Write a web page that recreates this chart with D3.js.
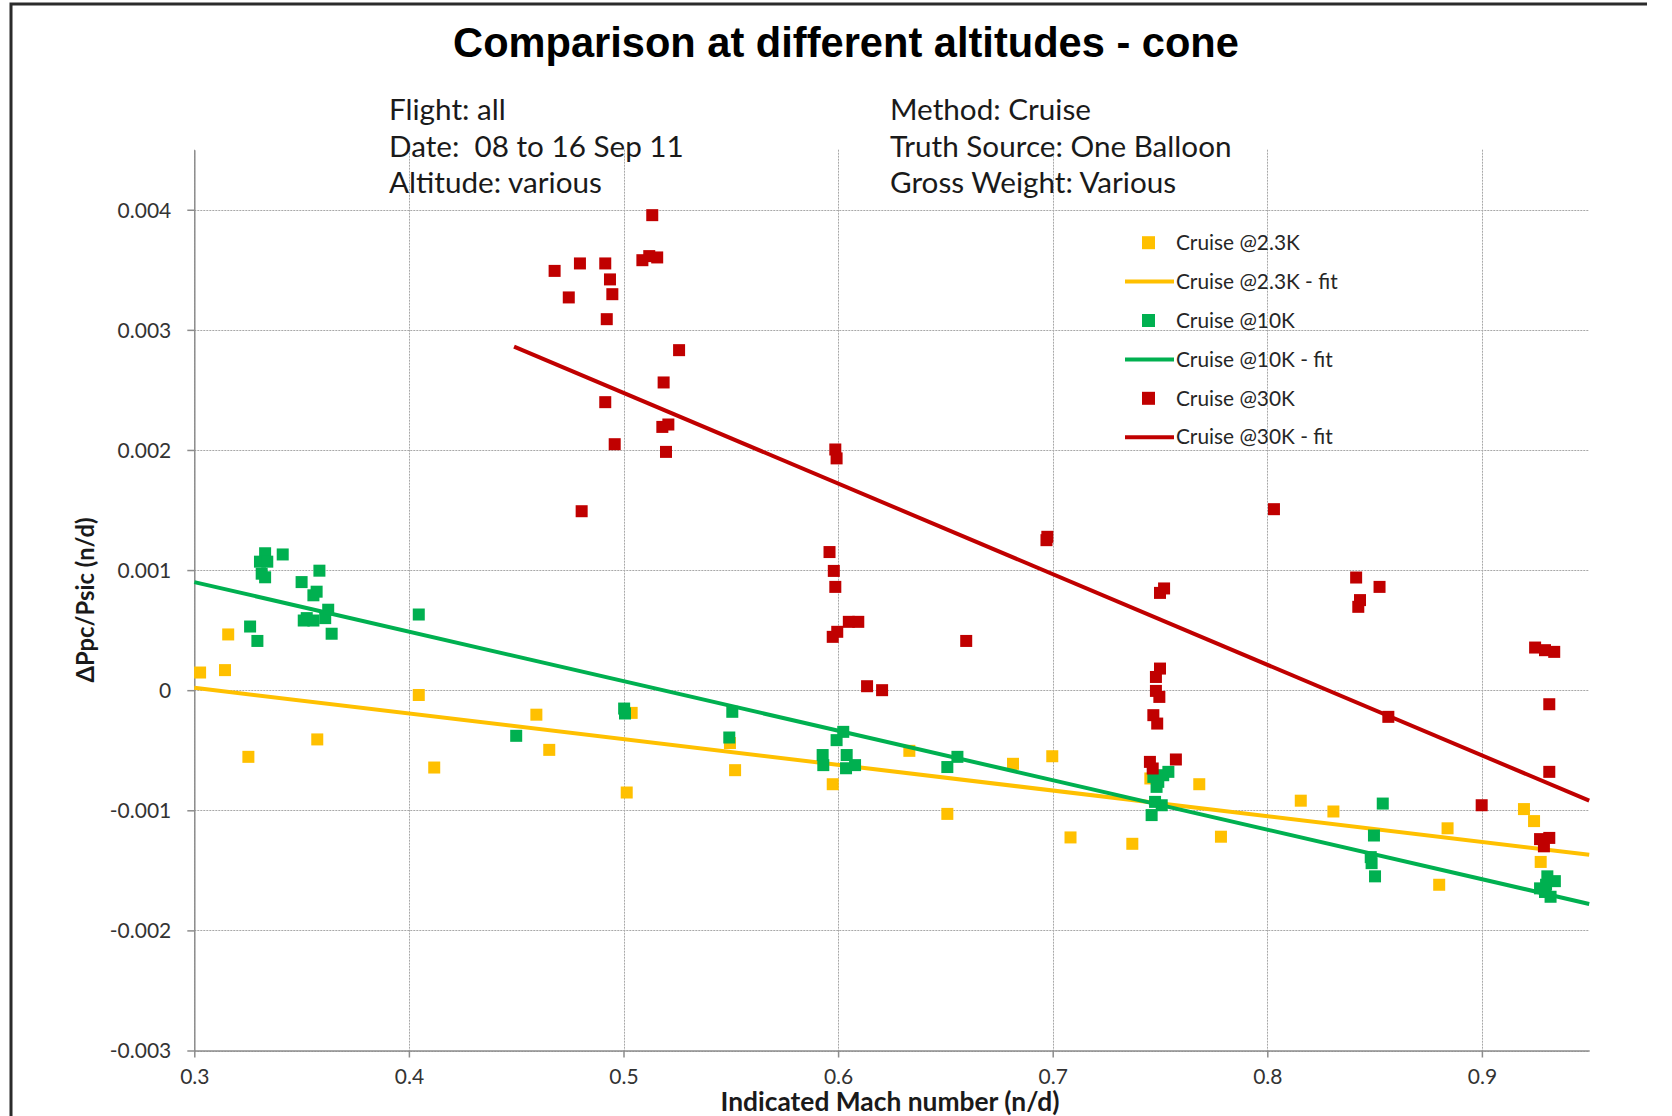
<!DOCTYPE html>
<html>
<head>
<meta charset="utf-8">
<script src="https://cdn.jsdelivr.net/npm/d3@7"></script>
<style>
  html, body { margin: 0; padding: 0; background: #fff; }
  svg { display: block; }
</style>
</head>
<body>
<svg id="chart" width="1672" height="1116"></svg>
<script>
// ---------------- DATA ----------------
const chartTitle = "Comparison at different altitudes - cone";
const infoLeft = ["Flight: all", "Date:\u00a0\u00a008 to 16 Sep 11", "Altitude: various"];
const infoRight = ["Method: Cruise", "Truth Source: One Balloon", "Gross Weight: Various"];
const xAxisTitle = "Indicated Mach number (n/d)";
const yAxisTitle = "\u0394Ppc/Psic (n/d)";

const xTicks = [0.3, 0.4, 0.5, 0.6, 0.7, 0.8, 0.9];
const yTicks = [-0.003, -0.002, -0.001, 0, 0.001, 0.002, 0.003, 0.004];
const xTickLabels = ["0.3", "0.4", "0.5", "0.6", "0.7", "0.8", "0.9"];
const yTickLabels = ["-0.003", "-0.002", "-0.001", "0", "0.001", "0.002", "0.003", "0.004"];

const seriesNames = ["Cruise @2.3K", "Cruise @10K", "Cruise @30K"];
const fitNames = ["Cruise @2.3K - fit", "Cruise @10K - fit", "Cruise @30K - fit"];

const cruise2_3K = [
  [0.3027, 0.000147], [0.3143, 0.000167], [0.3158, 0.000464], [0.3252, -0.000555],
  [0.3573, -0.00041], [0.4046, -0.00004], [0.4118, -0.000644], [0.4594, -0.000204],
  [0.4654, -0.000497], [0.5038, -0.000189], [0.5015, -0.000852], [0.5496, -0.00044],
  [0.552, -0.000666], [0.5975, -0.000783], [0.6332, -0.000505], [0.6509, -0.00103],
  [0.6815, -0.000613], [0.6998, -0.00055], [0.7083, -0.001226], [0.7371, -0.001279],
  [0.7455, -0.000735], [0.7683, -0.000783], [0.7784, -0.00122], [0.8156, -0.00092],
  [0.8308, -0.00101], [0.884, -0.00115], [0.8801, -0.00162], [0.9196, -0.00099],
  [0.9243, -0.00109], [0.9274, -0.00143]
];
const cruise10K = [
  [0.333, 0.00114], [0.3306, 0.00107], [0.334, 0.00107], [0.3314, 0.00097],
  [0.333, 0.00094], [0.3412, 0.00113], [0.326, 0.00053], [0.3294, 0.00041],
  [0.350, 0.0009], [0.3583, 0.000995], [0.3555, 0.00079], [0.357, 0.00082],
  [0.351, 0.00058], [0.3524, 0.0006], [0.3555, 0.00058], [0.3624, 0.00067],
  [0.361, 0.0006], [0.364, 0.00047], [0.4046, 0.00063], [0.45, -0.00038],
  [0.5003, -0.000153], [0.5007, -0.000194], [0.5507, -0.00018], [0.5493, -0.000394],
  [0.5928, -0.00054], [0.5931, -0.000624], [0.5993, -0.000416], [0.6024, -0.000347],
  [0.604, -0.00054], [0.6037, -0.00065], [0.6079, -0.000624], [0.6509, -0.00064],
  [0.6556, -0.000555], [0.7469, -0.000722], [0.7492, -0.000763], [0.7515, -0.000708],
  [0.7539, -0.00068], [0.7484, -0.000805], [0.7477, -0.00093], [0.7508, -0.000958],
  [0.7461, -0.00104], [0.8538, -0.000944], [0.8497, -0.00121], [0.8482, -0.00139],
  [0.8486, -0.00144], [0.8502, -0.00155], [0.9305, -0.00155], [0.934, -0.00159],
  [0.9271, -0.00165], [0.9294, -0.00168], [0.932, -0.00172], [0.9299, -0.00162]
];
const cruise30K = [
  [0.5134, 0.003955], [0.5088, 0.00358], [0.512, 0.003614], [0.5157, 0.003603],
  [0.4679, 0.003491], [0.4797, 0.003553], [0.4915, 0.003553], [0.4937, 0.00342],
  [0.4948, 0.003297], [0.4745, 0.00327], [0.4922, 0.003089], [0.5259, 0.002831],
  [0.5187, 0.002562], [0.4915, 0.002398], [0.5181, 0.002192], [0.5209, 0.002212],
  [0.4959, 0.002048], [0.5198, 0.001984], [0.4805, 0.00149], [0.5987, 0.002004],
  [0.5993, 0.00193], [0.596, 0.00115], [0.598, 0.000993], [0.5987, 0.00086],
  [0.5975, 0.000444], [0.5996, 0.000486], [0.605, 0.000569], [0.6094, 0.000569],
  [0.6135, 0.000033], [0.6205, 0.0], [0.6597, 0.00041], [0.6971, 0.001249],
  [0.6975, 0.001277], [0.7519, 0.000847], [0.75, 0.00081], [0.75, 0.00018],
  [0.7481, 0.00011], [0.7481, -0.000006], [0.7497, -0.000056], [0.7469, -0.000208],
  [0.7487, -0.000278], [0.7453, -0.000597], [0.7466, -0.000652], [0.7574, -0.000577],
  [0.8031, 0.001507], [0.8414, 0.000938], [0.8523, 0.00086], [0.8432, 0.00075],
  [0.8424, 0.000694], [0.8564, -0.000222], [0.8999, -0.000958], [0.9248, 0.000355],
  [0.9294, 0.000333], [0.9337, 0.000319], [0.9314, -0.000117], [0.9314, -0.00068],
  [0.9271, -0.00124], [0.9314, -0.00123], [0.9289, -0.0013]
];

const fit2_3K = [[0.3, 0.00002], [0.95, -0.00137]];
const fit10K = [[0.3, 0.0009], [0.95, -0.00178]];
const fit30K = [[0.449, 0.00286], [0.95, -0.00092]];

const xDomain = [0.3, 0.95];
const yDomain = [-0.003, 0.0045];

// ---------------- STYLE / LAYOUT ----------------
const colors = ["#FFC000", "#00B050", "#C00000"];
const calibriLike = "Lato, 'Open Sans', sans-serif";
const arialLike = "'Liberation Sans', Arial, sans-serif";

const svg = d3.select("#chart");
const plot = { left: 194.3, right: 1589.2, top: 149.7, bottom: 1050.5 };

const x = d3.scaleLinear().domain(xDomain).range([plot.left, plot.right]);
const y = d3.scaleLinear().domain(yDomain).range([plot.bottom, plot.top]);

function fitGroup(nodes, targets, base) {
  const measured = nodes.map(n => n.getComputedTextLength());
  const ratio = d3.sum(targets) / d3.sum(measured);
  nodes.forEach(n => d3.select(n).attr("font-size", base * ratio));
}

// frame
svg.append("path")
  .attr("d", "M11,1116 L11,4 L1647,4")
  .attr("fill", "none").attr("stroke", "#2b2b2b").attr("stroke-width", 3);

// gridlines
const grid = svg.append("g");
grid.selectAll("line.h").data(yTicks).join("line")
  .attr("x1", plot.left).attr("x2", plot.right)
  .attr("y1", d => Math.round(y(d)) + 0.5).attr("y2", d => Math.round(y(d)) + 0.5)
  .attr("stroke", "#a8a8a8").attr("stroke-width", 1).attr("stroke-dasharray", "2,1");
grid.selectAll("line.v").data(xTicks).join("line")
  .attr("y1", plot.top).attr("y2", plot.bottom)
  .attr("x1", d => Math.round(x(d)) + 0.5).attr("x2", d => Math.round(x(d)) + 0.5)
  .attr("stroke", "#a8a8a8").attr("stroke-width", 1).attr("stroke-dasharray", "2,1");

// axes
const xAxis = d3.axisBottom(x).tickValues(xTicks).tickSize(7)
  .tickFormat((d, i) => xTickLabels[i]).tickSizeOuter(0);
const yAxis = d3.axisLeft(y).tickValues(yTicks).tickSize(7)
  .tickFormat((d, i) => yTickLabels[i]).tickSizeOuter(0);

const gx = svg.append("g").attr("transform", `translate(0,${plot.bottom})`).call(xAxis);
const gy = svg.append("g").attr("transform", `translate(${plot.left},0)`).call(yAxis);
[gx, gy].forEach(g => {
  g.select(".domain").attr("stroke", "#8c8c8c").attr("stroke-width", 1.5);
  g.selectAll(".tick line").attr("stroke", "#8c8c8c").attr("stroke-width", 1.5);
  g.selectAll(".tick text").attr("font-family", calibriLike).attr("font-size", 21)
    .attr("fill", "#333");
});
gx.selectAll(".tick text").attr("dy", null).attr("y", 33);
gy.selectAll(".tick text").attr("x", -23).attr("dy", "0.35em");

// series points and fits
const seriesData = [cruise2_3K, cruise10K, cruise30K];
const fitData = [fit2_3K, fit10K, fit30K];
const ms = 12;
const line = d3.line().x(d => x(d[0])).y(d => y(d[1]));
seriesData.forEach((pts, i) => {
  svg.append("g").selectAll("rect").data(pts).join("rect")
    .attr("x", d => x(d[0]) - ms / 2).attr("y", d => y(d[1]) - ms / 2)
    .attr("width", ms).attr("height", ms).attr("fill", colors[i]);
  svg.append("path").datum(fitData[i]).attr("d", line)
    .attr("fill", "none").attr("stroke", colors[i]).attr("stroke-width", 4);
});

// legend
const legendItems = [];
seriesNames.forEach((n, i) => {
  legendItems.push({ name: n, type: "marker", color: colors[i] });
  legendItems.push({ name: fitNames[i], type: "line", color: colors[i] });
});
const legY0 = 242.7, legStep = 38.9;
const leg = svg.append("g");
legendItems.forEach((it, i) => {
  const cy = legY0 + i * legStep;
  if (it.type === "marker") {
    leg.append("rect").attr("x", 1148.5 - 6.5).attr("y", cy - 6.5).attr("width", 13).attr("height", 13)
      .attr("fill", it.color);
  } else {
    leg.append("line").attr("x1", 1125).attr("x2", 1174).attr("y1", cy).attr("y2", cy)
      .attr("stroke", it.color).attr("stroke-width", 4);
  }
  leg.append("text").attr("class", "legtext").attr("x", 1176).attr("y", cy).attr("dy", "0.35em")
    .attr("font-family", calibriLike).attr("font-size", 20).attr("fill", "#262626").text(it.name);
});
fitGroup(leg.selectAll("text.legtext").nodes(), [125, 162, 118, 157, 118, 157], 20);

// title
const title = svg.append("text").attr("x", 846).attr("y", 57).attr("text-anchor", "middle")
  .attr("font-family", arialLike).attr("font-weight", "bold").attr("font-size", 40)
  .attr("fill", "#000").text(chartTitle);
fitGroup([title.node()], [786], 40);

// info block
const infoBase = [120, 157, 193];
const infoNodes = [];
infoLeft.forEach((t, i) => {
  infoNodes.push(svg.append("text").attr("x", 389).attr("y", infoBase[i])
    .attr("font-family", calibriLike).attr("font-size", 28).attr("fill", "#1a1a1a").text(t).node());
});
infoRight.forEach((t, i) => {
  infoNodes.push(svg.append("text").attr("x", 890).attr("y", infoBase[i])
    .attr("font-family", calibriLike).attr("font-size", 28).attr("fill", "#1a1a1a").text(t).node());
});
fitGroup(infoNodes, [120, 287, 216, 202, 343, 286], 28);

// axis titles
const xt = svg.append("text").attr("x", 890).attr("y", 1111).attr("text-anchor", "middle")
  .attr("font-family", calibriLike).attr("font-weight", "bold").attr("font-size", 22)
  .attr("fill", "#1a1a1a").text(xAxisTitle);
fitGroup([xt.node()], [339], 22);
const yt = svg.append("text").attr("transform", "translate(94,600) rotate(-90)")
  .attr("text-anchor", "middle")
  .attr("font-family", calibriLike).attr("font-weight", "bold").attr("font-size", 22)
  .attr("fill", "#1a1a1a").text(yAxisTitle);
fitGroup([yt.node()], [165], 22);
</script>
</body>
</html>
